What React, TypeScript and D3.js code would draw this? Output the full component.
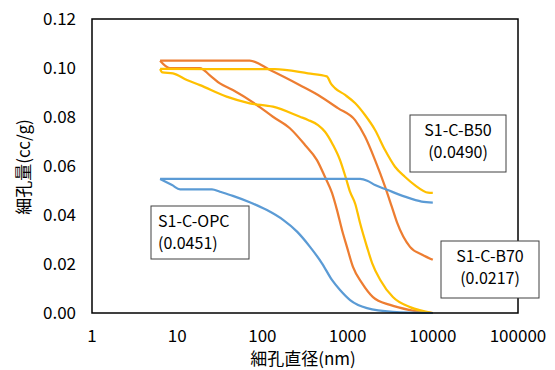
import React from 'react';
import * as d3 from 'd3';

// pore diameter (nm), cumulative pore volume (cc/g)
const opcIntrusion: [number, number][] = [
  [6.3, 0.0547], [8.7, 0.0522], [10.8, 0.0505], [25.6, 0.0505], [31.7, 0.0495], [45, 0.0478],
  [71, 0.0452], [113, 0.042], [175, 0.038], [255, 0.0332], [362, 0.027], [500, 0.0203],
  [655, 0.0135], [815, 0.0094], [1070, 0.0053], [1690, 0.002], [3400, 0.0005], [10000, 0],
];
const opcExtrusion: [number, number][] = [
  [6.3, 0.0547], [1400, 0.0547], [1700, 0.054], [2100, 0.0522], [2950, 0.0502],
  [4700, 0.0475], [7400, 0.0455], [10000, 0.0451],
];
const b70Intrusion: [number, number][] = [
  [6.3, 0.103], [8.2, 0.1], [18.5, 0.1], [24, 0.0971], [31.7, 0.0937], [45, 0.091],
  [86, 0.0849], [133, 0.0801], [210, 0.0754], [316, 0.0686], [437, 0.0624], [543, 0.0555],
  [656, 0.049], [751, 0.042], [860, 0.0339], [984, 0.0269], [1156, 0.0188], [1476, 0.0122],
  [1986, 0.0065], [3150, 0.0033], [5400, 0.0012], [10000, 0],
];
const b70Extrusion: [number, number][] = [
  [6.3, 0.103], [71, 0.103], [123, 0.0992], [276, 0.093], [450, 0.089], [770, 0.0836],
  [1230, 0.0786], [1600, 0.072], [2100, 0.0624], [2750, 0.0516], [3300, 0.0434],
  [3800, 0.037], [5400, 0.027], [7600, 0.0237], [10000, 0.0217],
];
const b50Intrusion: [number, number][] = [
  [6.3, 0.0996], [6.7, 0.0982], [8.9, 0.0978], [13, 0.0951], [18.5, 0.093], [38, 0.0883],
  [71, 0.0856], [133, 0.0842], [276, 0.0801], [343, 0.0788], [450, 0.0767], [543, 0.074],
  [674, 0.0686], [815, 0.0624], [954, 0.0551], [1070, 0.0494], [1230, 0.0445], [1400, 0.0367],
  [1690, 0.0269], [1940, 0.0204], [2420, 0.0135], [3400, 0.0065], [5400, 0.0024], [10000, 0],
];
const b50Extrusion: [number, number][] = [
  [6.3, 0.0996], [140, 0.0995], [343, 0.0978], [570, 0.0966], [640, 0.0935], [710, 0.0918],
  [935, 0.089], [1230, 0.0856], [1600, 0.0808], [2100, 0.0747], [2750, 0.0665], [3600, 0.0597],
  [4700, 0.0556], [6150, 0.0522], [8800, 0.0491], [10000, 0.049],
];

const xTicks = [1, 10, 100, 1000, 10000, 100000];
const yTicks = [0, 0.02, 0.04, 0.06, 0.08, 0.1, 0.12];

const BLUE = '#5B9BD5';
const ORANGE = '#ED7D31';
const YELLOW = '#FFC000';

const series = [
  { data: b70Intrusion, color: ORANGE },
  { data: b70Extrusion, color: ORANGE },
  { data: b50Intrusion, color: YELLOW },
  { data: b50Extrusion, color: YELLOW },
  { data: opcIntrusion, color: BLUE },
  { data: opcExtrusion, color: BLUE },
];

const notes = [
  { lines: ['S1-C-B50', '(0.0490)'], x: 410, y: 115, w: 96, h: 57, anchor: 'middle' },
  { lines: ['S1-C-OPC', '(0.0451)'], x: 151, y: 206, w: 98, h: 53, anchor: 'start' },
  { lines: ['S1-C-B70', '(0.0217)'], x: 441, y: 241, w: 98, h: 57, anchor: 'middle' },
];

const FONT = '"Noto Sans CJK JP", "Noto Sans", sans-serif';

export default function App() {
  const width = 555;
  const height = 370;
  const m = { left: 92, right: 518, top: 19, bottom: 313 };

  const x = d3.scaleLog().domain([1, 100000]).range([m.left, m.right]);
  const y = d3.scaleLinear().domain([0, 0.12]).range([m.bottom, m.top]);

  const line = d3
    .line<[number, number]>()
    .x((d) => x(d[0]))
    .y((d) => y(d[1]))
    .curve(d3.curveMonotoneX);

  return (
    <svg width={width} height={height} style={{ position: 'absolute', left: 0, top: 0, background: '#fff' }} fontFamily={FONT}>
      <rect x={0} y={0} width={width} height={height} fill="#fff" />
      {series.map((s, i) => (
        <path key={i} d={line(s.data) || ''} fill="none" stroke={s.color} strokeWidth={2.25} strokeLinejoin="round" />
      ))}
      <rect x={m.left} y={m.top} width={m.right - m.left} height={m.bottom - m.top} fill="none" stroke="#000" strokeWidth={1.5} />

      {yTicks.map((t) => (
        <text key={t} x={76} y={y(t)} dy="0.35em" textAnchor="end" fontSize={17} fill="#000">
          {t.toFixed(2)}
        </text>
      ))}
      {xTicks.map((t) => (
        <text key={t} x={x(t)} y={342} textAnchor="middle" fontSize={17} fill="#000">
          {t}
        </text>
      ))}

      <text x={303} y={365} textAnchor="middle" fontSize={17} fill="#000">細孔直径(nm)</text>
      <text transform="translate(30,167) rotate(-90)" textAnchor="middle" fontSize={17} fill="#000">細孔量(cc/g)</text>

      {notes.map((n) => (
        <g key={n.lines[0]}>
          <rect x={n.x} y={n.y} width={n.w} height={n.h} fill="#fff" stroke="#404040" strokeWidth={1} />
          {n.lines.map((l, j) => (
            <text
              key={l}
              x={n.anchor === 'middle' ? n.x + n.w / 2 : n.x + 7}
              y={n.y + 15 + j * 22}
              dy="0.35em"
              textAnchor={n.anchor}
              fontSize={16}
              fill="#000"
            >
              {l}
            </text>
          ))}
        </g>
      ))}
    </svg>
  );
}
